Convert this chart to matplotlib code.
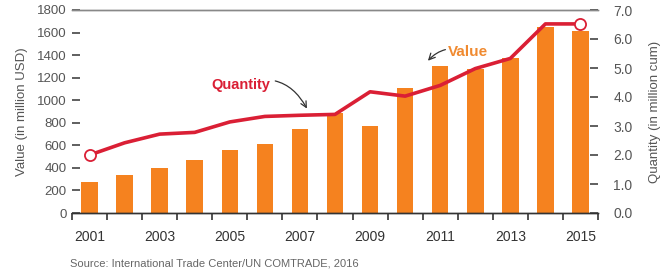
import matplotlib
matplotlib.use("Agg")
import matplotlib.pyplot as plt
from matplotlib.ticker import FixedLocator

plt.rcParams['font.family'] = ['Liberation Sans', 'DejaVu Sans']

years = [2001, 2002, 2003, 2004, 2005, 2006, 2007, 2008, 2009, 2010, 2011, 2012, 2013, 2014, 2015]
value_musd = [275, 335, 400, 474, 557, 610, 745, 883, 770, 1105, 1300, 1278, 1372, 1652, 1610]
quantity_mcum = [2.0, 2.42, 2.72, 2.78, 3.14, 3.33, 3.37, 3.4, 4.18, 4.03, 4.4, 4.98, 5.33, 6.52, 6.52]
left_ticks = [0, 200, 400, 600, 800, 1000, 1200, 1400, 1600, 1800]
right_ticks = [0.0, 1.0, 2.0, 3.0, 4.0, 5.0, 6.0, 7.0]
xtick_years = [2001, 2003, 2005, 2007, 2009, 2011, 2013, 2015]

BAR = '#F5821F'
LINE = '#DA1F35'
GRAY = '#555555'

fig = plt.figure(figsize=(6.61, 2.76), dpi=100)
ax = fig.add_axes([72/661, 1-213/276, (598-72)/661, (213-10)/276])
ax2 = ax.twinx()

ax.bar(years, value_musd, width=0.47, color=BAR, zorder=2)
ax.set_xlim(years[0]-0.5, years[-1]+0.5)
ax.set_ylim(0, 1800)
ax2.set_ylim(0, 7)

ax2.plot(years, quantity_mcum, color=LINE, lw=2.6, zorder=3, solid_joinstyle='round')
ax2.plot([years[0], years[-1]], [quantity_mcum[0], quantity_mcum[-1]], 'o', ms=8,
         mfc='white', mec=LINE, mew=1.3, zorder=4)

for a in (ax, ax2):
    for s in ('left', 'right'):
        a.spines[s].set_visible(False)
    a.spines['top'].set_color('#888888')
    a.spines['top'].set_linewidth(1.0)
    a.spines['bottom'].set_color('#333333')
    a.spines['bottom'].set_linewidth(1.0)

ax.set_yticks(left_ticks)
ax.set_yticklabels([str(t) for t in left_ticks])
ax.tick_params(axis='y', direction='in', length=6, width=1.2, color='#444444',
               labelsize=9.5, labelcolor=GRAY, pad=4)
ax2.set_yticks(right_ticks)
ax2.set_yticklabels([f'{t:.1f}' for t in right_ticks])
ax2.tick_params(axis='y', direction='in', length=6, width=1.2, color='#444444',
                labelsize=10, labelcolor=GRAY, pad=11)

ax.set_xticks(xtick_years)
ax.set_xticklabels([str(y) for y in xtick_years])
ax.xaxis.set_minor_locator(FixedLocator([y - 0.5 for y in years] + [years[-1] + 0.5]))
ax.tick_params(axis='x', which='major', length=0, labelsize=10, labelcolor='#333333', pad=12)
ax.tick_params(axis='x', which='minor', direction='out', length=5, width=1.2, color='#333333')

ax.set_ylabel('Value (in million USD)', fontsize=9.5, color=GRAY, labelpad=6)
ax2.set_ylabel('Quantity (in million cum)', fontsize=9.5, color=GRAY, labelpad=12)

ax2.annotate('Quantity', xy=(2007.2, 3.6), xytext=(2005.3, 4.4), fontsize=10.5,
             fontweight='bold', color=LINE, ha='center', va='center',
             arrowprops=dict(arrowstyle='->', color='#333333', lw=0.9,
                             connectionstyle='arc3,rad=-0.45', shrinkA=2, shrinkB=0))
ax2.annotate('Value', xy=(2010.65, 5.25), xytext=(2011.8, 5.55), fontsize=11,
             fontweight='bold', color='#F08A30', ha='center', va='center',
             arrowprops=dict(arrowstyle='->', color='#333333', lw=0.9,
                             connectionstyle='arc3,rad=0.35', shrinkA=0, shrinkB=0))

fig.text(70/661, 1-263/276, 'Source: International Trade Center/UN COMTRADE, 2016',
         fontsize=8, color='#666666', ha='left', va='center')

fig.savefig('out.png', dpi=100)
